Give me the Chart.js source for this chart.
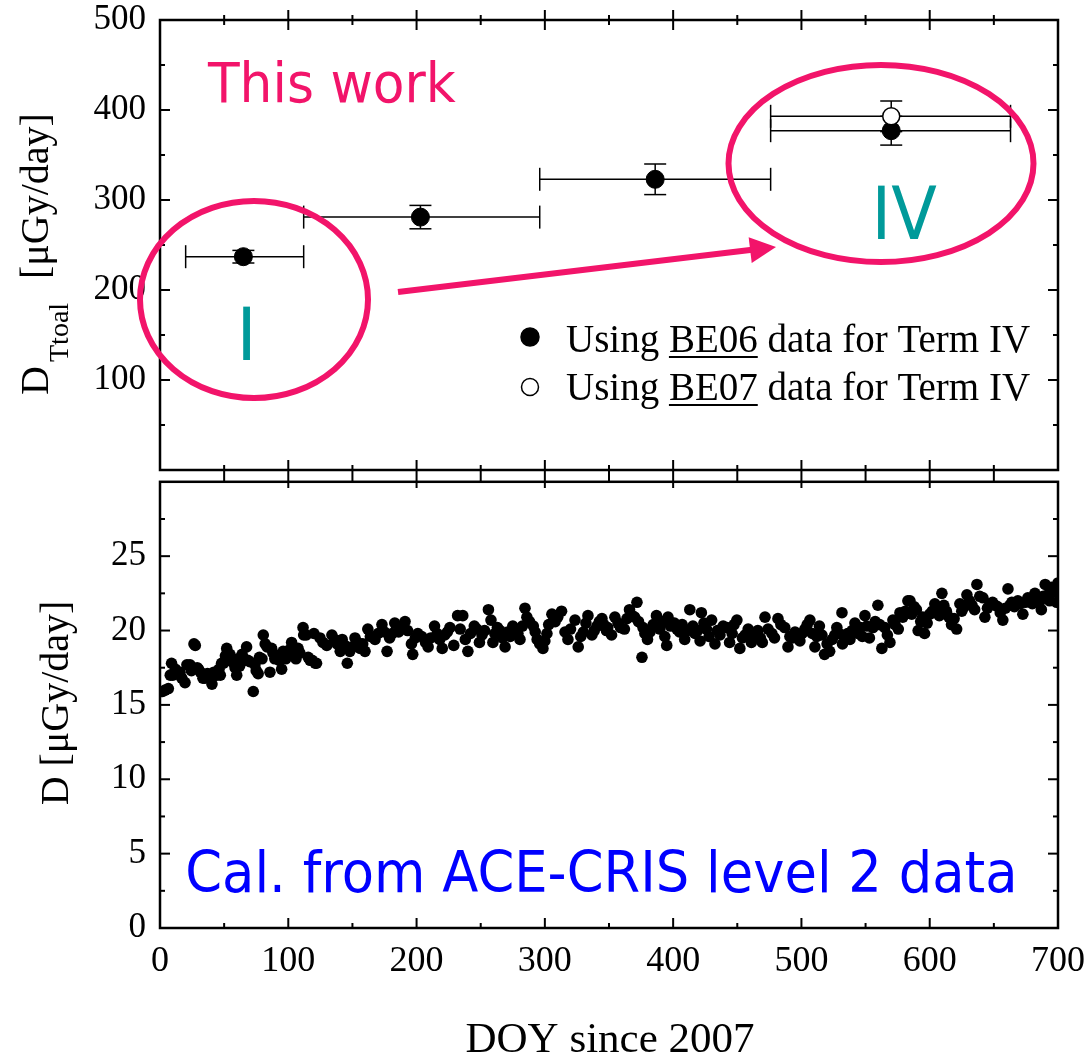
<!DOCTYPE html>
<html>
<head>
<meta charset="utf-8">
<script src="https://cdn.jsdelivr.net/npm/chart.js@4.4.0/dist/chart.umd.min.js"></script>
<style>
html,body{margin:0;padding:0;background:#fff;}
#wrap{position:relative;width:1090px;height:1057px;overflow:hidden;background:#fff;}
#wrap canvas{position:absolute;left:0;}
</style>
</head>
<body>
<div id="wrap">
  <canvas id="topChart" width="1090" height="490" style="top:0px"></canvas>
  <canvas id="botChart" width="1090" height="581" style="top:476px"></canvas>
</div>
<script>
// ---------------- DATA ----------------
const xTickValues = [0, 100, 200, 300, 400, 500, 600, 700];
const topYTickValues = [100, 200, 300, 400, 500];
const botYTickValues = [0, 5, 10, 15, 20, 25];

// Top panel: total dose per term (BE06 used for Term IV)
const termCenter = [65, 203, 386, 570];
const termStart  = [20, 112, 296, 476];
const termEnd    = [112, 296, 476, 663];
const be06Dose   = [237, 281, 323, 377];
const be06Err    = [7, 13, 17, 16];
// Term IV using BE07
const be07Center = [570];
const be07Start  = [476];
const be07End    = [663];
const be07Dose   = [393];
const be07Err    = [17];

// Bottom panel: daily dose from ACE-CRIS level 2 data
const aceDoy = [
  2,4,6.5,8,9,10,12,14,15.6,17, 19.5,21,23.4,24.5,26.5,27.5,29,30,31.5,33.5,
  35,37,38.5,40.5,42,43,44,46,47,48, 49.5,51,52,54.5,56,58.5,59.8,61,62,64,
  66,67.5,68.5,70,72.7,74,75,76.5,77.5,79.5, 80.5,82,83.5,85.7,87,88,89.5,91,93,94.8,
  96,98,99.5,101,102.6,104.5,106,107.6,109,111.5, 112,114,115.5,117,
  118.6,120,121,122,124.7,127,130,134,136,138, 140.5,142,144,146,148,150,152,154,156,158,
  159.8,162,164,167.6,170,173,175,177,179,181, 183,186,188,191,193,196,197,199,201,204,
  207,209,211,214,216,218,220,222,224,226, 229,
  232,234,236,238,240,242,245,247,249,251, 253,256,258,259.5,261,263,265,267,269,271,
  273,275,277,279,280.6,282.5,284.5,286,288,291, 292.5,294,296,298.5,300,301.6,303,305.5,308,310,
  313,315.7,318,320,323.5,326,328,330,332,333.6, 336.7,338.5,340.6,342.5,344.5,346,348,
  349,352,354.6,357,359,362,364,366,368,370, 371.8,373,375.7,376.5,378,380,382,384.5,387,389.7,
  392,393.5,395,396,398,401,403,405,407,409, 411,413,415.4,417,419,421,422,424,426,428,
  430,432.6,434.5,436.5,439,442,444,446,447.5,449.7, 452,454,456,458.5,461,463.5,466,
  468,469.5,471.6,474,477,479,481.7,484,487,489.5, 491,493,495,497,498.8,500.5,502.7,504.5,506.6,508.5,
  510.5,512,514,516,518,520,522,524,526,527.6, 529.5,531.6,532,534,536,537.8,539.5,541.7,544,546,
  547.5,549.5,551,553,555.7,557.5,559.6,561,562.7,565, 567,569,571.3,573,575.5,576.8,579,581,583,
  584.6,586,588,589.6,591,593,594.5,596,598,600, 602,604,606,607.5,609.5,611,613,615,617,619,
  621,623.5,625,627,629,631,633,635,636.8,639, 641.5,643,645,647,649,651,653,655,657,659,
  661,662.5,664,666,668.7,670.5,672.6,674.5,676.5,678.5, 680,682,684,685.5,687,688.5,690,692,693.5,695,
  697,699,700
];
const aceDose = [
  15.9,16.0,16.1,17.0,17.8,17.0,17.4,17.1,17.2,16.8, 16.5,17.7,17.7,17.3,19.1,19.0,17.5,17.4,17.2,16.8,
  16.8,17.1,17.0,16.4,17.2,17.0,17.0,17.4,17.0,17.8, 17.8,18.3,18.8,18.4,17.9,17.5,17.0,18.1,17.6,18.4,
  18.0,18.9,18.0,17.9,15.9,17.7,17.3,17.1,18.2,18.1, 19.7,19.1,18.9,17.2,18.8,18.5,18.1,18.2,18.0,17.4,
  18.6,18.1,18.5,18.7,19.2,18.5,18.1,18.8,18.5,20.2, 19.7,19.7,18.2,18.0,
  18.0,19.8,17.8,17.8,19.5,19.2,19.0,19.7,19.4,19.1, 18.6,19.4,19.0,17.8,18.6,18.9,19.5,19.2,18.8,19.1,
  18.6,20.1,19.6,19.4,19.8,20.4,19.9,18.6,19.5,19.8, 20.5,19.9,20.2,20.6,20.0,19.1,18.4,19.5,19.8,19.6,
  19.2,18.9,19.5,20.3,19.8,19.4,18.8,19.7,19.9,20.2, 19.0,
  21.0,20.1,21.0,19.4,18.6,19.8,20.3,20.1,19.2,19.7, 20.0,21.4,20.7,19.2,19.8,20.2,20.0,19.5,18.9,19.9,
  19.6,20.3,20.1,19.8,19.4,20.3,21.5,20.9,20.6,20.3, 19.9,19.4,19.1,18.8,19.3,19.8,20.4,21.1,20.6,20.9,
  21.3,19.9,19.4,20.1,20.7,18.9,19.6,19.9,20.5,21.0, 19.7,20.0,20.3,20.6,20.8,20.4,20.0,
  20.2,19.7,20.9,20.5,20.2,20.1,20.8,21.4,21.0,20.9, 21.9,20.6,18.2,20.2,19.8,19.4,19.9,20.4,21.0,20.1,
  20.6,19.6,19.0,20.9,20.3,20.5,20.1,19.9,20.4,19.4, 20.0,21.4,20.3,19.8,20.0,19.3,21.2,20.5,20.1,19.6,
  20.7,19.1,20.0,19.7,20.3,20.2,19.2,19.8,20.4,20.7, 18.8,19.5,19.7,20.1,19.2,19.6,20.0,
  19.5,19.2,20.9,20.1,19.8,19.5,20.8,20.4,20.2,18.9, 19.6,19.5,19.9,19.6,19.3,19.8,20.1,20.4,20.7,19.8,
  18.9,19.6,20.3,19.7,18.4,19.1,18.6,19.4,19.7,20.2, 19.8,21.2,19.1,19.5,19.8,19.4,20.0,20.5,19.8,20.2,
  19.6,21.0,20.3,19.5,20.2,20.6,21.7,20.4,18.8,20.2, 19.7,19.2,20.7,20.4,20.1,21.2,20.9,21.3,22.0,
  22.0,21.1,21.6,21.4,20.0,20.6,20.9,19.8,20.5,21.1, 21.3,21.8,21.5,21.0,22.5,21.7,21.3,20.9,20.4,20.8,
  20.1,21.8,21.3,21.6,22.4,22.0,21.7,21.4,23.1,22.3, 22.2,20.9,21.5,21.8,21.9,21.7,21.6,21.2,20.7,21.5,
  22.8,21.7,21.9,21.6,22.0,21.8,21.1,21.9,22.2,22.0, 21.8,22.5,22.1,21.9,21.4,22.3,23.1,22.4,22.0,22.9,
  22.6,21.9,23.2
];

// ---------------- STYLE ----------------
const PINK = '#f2146a';
const TEAL = '#009a9a';
const BLUE = '#0000ff';
const SERIF = '"Liberation Serif", "Times New Roman", serif';
const SANS = '"DejaVu Sans", Verdana, sans-serif';
const FRAME_W = 2.5;

function fitText(ctx, txt, x, y, font, color, width) {
  ctx.save();
  ctx.font = font; ctx.fillStyle = color; ctx.textAlign = 'left'; ctx.textBaseline = 'alphabetic';
  const m = ctx.measureText(txt);
  const ink = m.actualBoundingBoxLeft + m.actualBoundingBoxRight;
  const sx = width ? width / ink : 1;
  ctx.translate(x, y); ctx.scale(sx, 1);
  ctx.fillText(txt, m.actualBoundingBoxLeft, 0);
  ctx.restore();
}

function line(ctx, x1, y1, x2, y2) {
  ctx.beginPath(); ctx.moveTo(x1, y1); ctx.lineTo(x2, y2); ctx.stroke();
}

// frame + inward ticks (major & minor)
function drawFrame(chart, cfg) {
  const ctx = chart.ctx, a = chart.chartArea;
  const xs = chart.scales.x, ys = chart.scales.y;
  ctx.save();
  ctx.strokeStyle = '#000';
  ctx.lineWidth = FRAME_W;
  ctx.lineCap = 'square';
  ctx.strokeRect(a.left, a.top, a.right - a.left, a.bottom - a.top);
  ctx.lineCap = 'butt';
  ctx.lineWidth = 2;
  for (let v = xs.min; v <= xs.max + 1e-9; v += cfg.xStep / 2) {
    const px = xs.getPixelForValue(v);
    const major = Math.abs(v / cfg.xStep - Math.round(v / cfg.xStep)) < 1e-6;
    if (v > xs.min && v < xs.max) {
      const L = major ? 10 : 5;
      if (cfg.topCross) line(ctx, px, a.top - L, px, a.top + L);
      if (cfg.bottomCross) line(ctx, px, a.bottom - L, px, a.bottom + (major ? 18 : 13));
      if (cfg.bottomIn) line(ctx, px, a.bottom - L, px, a.bottom);
    }
  }
  for (let v = ys.min; v <= ys.max + 1e-9; v += cfg.yStep / 2) {
    const py = ys.getPixelForValue(v);
    const major = Math.abs(v / cfg.yStep - Math.round(v / cfg.yStep)) < 1e-6;
    if (v > ys.min && v < ys.max) {
      const L = major ? 10 : 5;
      line(ctx, a.left, py, a.left + L, py);
      line(ctx, a.right - L, py, a.right, py);
    }
  }
  ctx.restore();
}

function noPadY(s) { s.width = 160; s.paddingTop = 0; s.paddingBottom = 0; }
function noPadX(s) { s.paddingLeft = 0; s.paddingRight = 0; }

// ---------------- TOP CHART ----------------
const errorBarPlugin = {
  id: 'errorBars',
  beforeDatasetsDraw(chart) {
    const ctx = chart.ctx, xs = chart.scales.x, ys = chart.scales.y;
    ctx.save();
    ctx.strokeStyle = '#000'; ctx.lineWidth = 1.5;
    const sets = [
      [termCenter, be06Dose, be06Err, termStart, termEnd],
      [be07Center, be07Dose, be07Err, be07Start, be07End]
    ];
    sets.forEach(([cx, cy, ey, x0, x1]) => {
      cx.forEach((_, i) => {
        const pxc = xs.getPixelForValue(cx[i]);
        const py = ys.getPixelForValue(cy[i]);
        const pl = xs.getPixelForValue(x0[i]);
        const pr = xs.getPixelForValue(x1[i]);
        const pt = ys.getPixelForValue(cy[i] + ey[i]);
        const pb = ys.getPixelForValue(cy[i] - ey[i]);
        line(ctx, pl, py, pr, py);
        line(ctx, pl, py - 11.5, pl, py + 11.5);
        line(ctx, pr, py - 11.5, pr, py + 11.5);
        line(ctx, pxc, pt, pxc, pb);
        line(ctx, pxc - 11, pt, pxc + 11, pt);
        line(ctx, pxc - 11, pb, pxc + 11, pb);
      });
    });
    ctx.restore();
  },
  afterDatasetsDraw(chart) {
    drawFrame(chart, { xStep: 100, yStep: 100, topCross: true, bottomCross: true });
  },
  afterDraw(chart) {
    const ctx = chart.ctx;
    ctx.save();
    fitText(ctx, 'This work', 207, 102, '55px ' + SANS, PINK, 249);
    ctx.strokeStyle = PINK; ctx.lineWidth = 6;
    ctx.beginPath(); ctx.ellipse(254, 299.5, 114, 98.5, 0, 0, Math.PI * 2); ctx.stroke();
    ctx.beginPath(); ctx.ellipse(881, 163.5, 152.5, 98.5, 0, 0, Math.PI * 2); ctx.stroke();
    const sx = 398, sy = 292, tx = 776, ty = 247;
    const len = Math.hypot(tx - sx, ty - sy), dx = (tx - sx) / len, dy = (ty - sy) / len;
    const hl = 26, hw = 13;
    const bx = tx - dx * hl, by = ty - dy * hl;
    ctx.lineWidth = 6; ctx.lineCap = 'butt';
    line(ctx, sx, sy, bx + dx * 2, by + dy * 2);
    ctx.fillStyle = PINK;
    ctx.beginPath(); ctx.moveTo(tx, ty);
    ctx.lineTo(bx - dy * hw, by + dx * hw); ctx.lineTo(bx + dy * hw, by - dx * hw);
    ctx.closePath(); ctx.fill();
    fitText(ctx, 'I', 243, 360, '73px ' + SANS, TEAL, 7.5);
    fitText(ctx, 'IV', 878, 239, '73px ' + SANS, TEAL, 59);

    const legRows = [
      { y: 337, base: 352, label: 'BE06', fill: '#000', r: 9 },
      { y: 387, base: 400, label: 'BE07', fill: '#fff', r: 8.5 }
    ];
    legRows.forEach(row => {
      ctx.beginPath(); ctx.arc(530, row.y, row.r, 0, Math.PI * 2);
      ctx.fillStyle = row.fill; ctx.fill();
      ctx.lineWidth = 1.5; ctx.strokeStyle = '#000'; ctx.stroke();
      ctx.font = '39px ' + SERIF; ctx.fillStyle = '#000'; ctx.textBaseline = 'alphabetic'; ctx.textAlign = 'left';
      let x = 566;
      ctx.fillText('Using ', x, row.base); x += ctx.measureText('Using ').width;
      const w = ctx.measureText(row.label).width;
      ctx.fillText(row.label, x, row.base);
      ctx.fillRect(x, row.base + 4, w, 2);
      x += w;
      ctx.fillText(' data for Term IV', x, row.base);
    });

    ctx.save();
    ctx.translate(48, 395); ctx.rotate(-Math.PI / 2);
    ctx.fillStyle = '#000'; ctx.textAlign = 'left'; ctx.textBaseline = 'alphabetic';
    ctx.font = '40px ' + SERIF; ctx.fillText('D', 0, 0);
    ctx.font = '28px ' + SERIF; ctx.fillText('Ttoal', 33, 20);
    ctx.font = '40px ' + SERIF; ctx.fillText('[\u03bcGy/day]', 116, 0);
    ctx.restore();
    ctx.restore();
  }
};

const topChart = new Chart(document.getElementById('topChart'), {
  type: 'scatter',
  data: {
    datasets: [
      {
        label: 'Using BE06 data for Term IV',
        data: termCenter.map((x, i) => ({ x, y: be06Dose[i] })),
        backgroundColor: '#000', borderColor: '#000', borderWidth: 1,
        pointRadius: 9, pointHoverRadius: 9, order: 1
      },
      {
        label: 'Using BE07 data for Term IV',
        data: be07Center.map((x, i) => ({ x, y: be07Dose[i] })),
        backgroundColor: '#fff', borderColor: '#000', borderWidth: 1.5,
        pointRadius: 8.5, pointHoverRadius: 8.5, order: 0
      }
    ]
  },
  options: {
    responsive: false, animation: false, events: [],
    layout: { padding: { left: 0, right: 32, top: 20, bottom: 20 } },
    plugins: { legend: { display: false }, tooltip: { enabled: false } },
    scales: {
      x: { type: 'linear', min: 0, max: 700, display: false, afterFit: noPadX },
      y: {
        type: 'linear', min: 0, max: 500,
        afterBuildTicks: s => { s.ticks = topYTickValues.map(v => ({ value: v })); },
        afterFit: noPadY,
        grid: { display: false, drawTicks: false },
        border: { display: false },
        ticks: { font: { family: SERIF, size: 35 }, color: '#000', padding: 14 }
      }
    }
  },
  plugins: [errorBarPlugin]
});

// ---------------- BOTTOM CHART ----------------
const OFFSET = 476;
const bottomPlugin = {
  id: 'bottomDeco',
  afterDatasetsDraw(chart) {
    drawFrame(chart, { xStep: 100, yStep: 5, bottomIn: true });
  },
  afterDraw(chart) {
    const ctx = chart.ctx;
    ctx.save();
    ctx.translate(0, -OFFSET);
    fitText(ctx, 'Cal. from ACE-CRIS level 2 data', 188, 892, '57px ' + SANS, BLUE, 825);
    ctx.font = '43px ' + SERIF; ctx.fillStyle = '#000'; ctx.textAlign = 'center'; ctx.textBaseline = 'alphabetic';
    ctx.fillText('DOY since 2007', 610, 1052);
    ctx.save();
    ctx.translate(68, 703); ctx.rotate(-Math.PI / 2);
    ctx.font = '40px ' + SERIF; ctx.textAlign = 'center';
    ctx.fillText('D [\u03bcGy/day]', 0, 0);
    ctx.restore();
    ctx.restore();
  }
};

const botChart = new Chart(document.getElementById('botChart'), {
  type: 'scatter',
  data: {
    datasets: [{
      label: 'ACE-CRIS',
      data: aceDoy.map((x, i) => ({ x, y: aceDose[i] })),
      backgroundColor: '#000', borderColor: '#000', borderWidth: 0,
      pointRadius: 5.8, pointHoverRadius: 5.8
    }]
  },
  options: {
    responsive: false, animation: false, events: [],
    layout: { padding: { left: 0, right: 32, top: 2, bottom: 0 } },
    plugins: { legend: { display: false }, tooltip: { enabled: false } },
    scales: {
      x: {
        type: 'linear', min: 0, max: 700, position: 'bottom',
        afterBuildTicks: s => { s.ticks = xTickValues.map(v => ({ value: v })); },
        afterFit: s => { s.height = 129; noPadX(s); },
        grid: { display: false, drawTicks: false },
        border: { display: false },
        ticks: { font: { family: SERIF, size: 36 }, color: '#000', padding: 12, maxRotation: 0, autoSkip: false }
      },
      y: {
        type: 'linear', min: 0, max: 30,
        afterBuildTicks: s => { s.ticks = botYTickValues.map(v => ({ value: v })); },
        afterFit: noPadY,
        grid: { display: false, drawTicks: false },
        border: { display: false },
        ticks: { font: { family: SERIF, size: 35 }, color: '#000', padding: 14 }
      }
    }
  },
  plugins: [bottomPlugin]
});
</script>
</body>
</html>
